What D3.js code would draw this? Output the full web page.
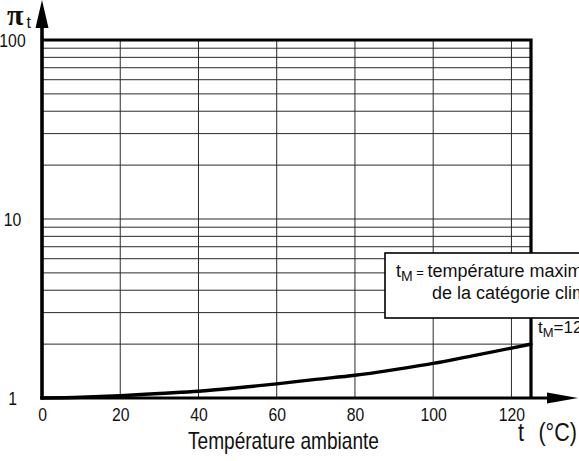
<!DOCTYPE html>
<html><head><meta charset="utf-8">
<script src="https://cdn.jsdelivr.net/npm/d3@7"></script>
<style>
html,body{margin:0;padding:0;background:#fff;}
svg{display:block;}
text{font-family:"Liberation Sans",Arial,Helvetica,sans-serif;fill:#111;}
</style></head>
<body><svg id="c" width="579" height="461"></svg>
<script>
// ---- data ----
const temps = [0, 10, 20, 30, 40, 50, 60, 70, 80, 90, 100, 110, 120, 125];
const piT   = [1.00, 1.01, 1.03, 1.06, 1.09, 1.14, 1.20, 1.27, 1.34, 1.44, 1.56, 1.72, 1.90, 2.00];
const xTicks = [0, 20, 40, 60, 80, 100, 120];
const xGrid = [20, 40, 60, 80, 100, 120];
const yTicks = [1, 10, 100];
const yGrid = [2,3,4,5,6,7,8,9,10,20,30,40,50,60,70,80,90];
const xLabel = "Température ambiante";
const xUnitVar = "t";
const xUnit = "(°C)";
const yLabel = "π";
const yLabelSub = "t";
const tM = 125;

// ---- layout ----
const NARROW = 0.83;
const svg = d3.select("#c");
const x = d3.scaleLinear().domain([0, 125]).range([42, 531]);
const y = d3.scaleLog().domain([1, 100]).range([398, 40]);
const [x0, x1] = x.range();
const [yb, yt] = y.range();

function ntext(parent, px, py, size, anchor) {
  return parent.append("text")
    .attr("transform", `translate(${px},${py}) scale(${NARROW},1)`)
    .attr("font-size", size).attr("text-anchor", anchor || "start");
}

// grid
svg.append("g").selectAll("line").data(yGrid).join("line")
  .attr("x1", x0).attr("x2", x1).attr("y1", d => y(d)).attr("y2", d => y(d))
  .attr("stroke", "#2a2a2a").attr("stroke-width", 1);
svg.append("g").selectAll("line").data(xGrid).join("line")
  .attr("x1", d => x(d)).attr("x2", d => x(d)).attr("y1", yb).attr("y2", yt)
  .attr("stroke", "#2a2a2a").attr("stroke-width", 1);

// frame: top and right borders (thick)
svg.append("path")
  .attr("d", `M${x0},${yt}H${x1}V${yb}`)
  .attr("fill", "none").attr("stroke", "#000").attr("stroke-width", 3.2);

// curve
const line = d3.line().x((d, i) => x(temps[i])).y(d => y(d)).curve(d3.curveMonotoneX);
svg.append("path").datum(piT).attr("d", line)
  .attr("fill", "none").attr("stroke", "#000").attr("stroke-width", 3.4)
  .attr("stroke-linecap", "round");

// axes lines with arrows
svg.append("line").attr("x1", x0).attr("x2", x0).attr("y1", yb + 1.5).attr("y2", 20)
  .attr("stroke", "#000").attr("stroke-width", 3.6);
svg.append("path").attr("d", `M${x0},0L${x0 - 6.5},28L${x0 + 6.5},28Z`).attr("fill", "#000");
svg.append("line").attr("x1", x0 - 1.8).attr("x2", 555).attr("y1", yb).attr("y2", yb)
  .attr("stroke", "#000").attr("stroke-width", 3.2);
svg.append("path").attr("d", `M578,${yb}L547,${yb - 5.5}L547,${yb + 5.5}Z`).attr("fill", "#000");

// x tick labels
const gx = svg.append("g").attr("transform", `translate(0,${yb})`)
  .call(d3.axisBottom(x).tickValues(xTicks).tickSize(0).tickPadding(10).tickFormat(d3.format("d")));
gx.select(".domain").remove();
gx.selectAll("text").attr("font-size", 19).attr("font-family", null).attr("fill", "#111")
  .attr("transform", `scale(${NARROW},1)`);

// y tick labels
const gy = svg.append("g");
yTicks.forEach(v => {
  ntext(gy, 12.5, y(v), 19, "middle").attr("dy", "0.36em").text(v);
});

// y label pi_t
const yl = svg.append("text").attr("x", 7).attr("y", 25);
yl.append("tspan").attr("font-size", 30).attr("font-family", "Liberation Serif, serif").attr("font-weight", "bold").text(yLabel);
yl.append("tspan").attr("font-size", 16).attr("dx", 3).attr("dy", 3).text(yLabelSub);

// x label
ntext(svg, 188, 449, 23).text(xLabel);
ntext(svg, 518, 441, 26).text(xUnitVar);
ntext(svg, 577, 441, 26, "end").text(xUnit);

// annotation box
svg.append("rect").attr("x", 385).attr("y", 253).attr("width", 220).attr("height", 65)
  .attr("fill", "#fff").attr("stroke", "#000").attr("stroke-width", 1.6);
const t1 = svg.append("text").attr("x", 396).attr("y", 277).attr("font-size", 18);
t1.append("tspan").text("t");
t1.append("tspan").attr("font-size", 14).attr("dy", 4).text("M");
t1.append("tspan").attr("font-size", 13).attr("dy", -4).text(" = ");
t1.append("tspan").text("température maximale");
svg.append("text").attr("x", 432).attr("y", 299).attr("font-size", 18).text("de la catégorie climatique");

const t2 = svg.append("text").attr("x", 538).attr("y", 333).attr("font-size", 17);
t2.append("tspan").text("t");
t2.append("tspan").attr("font-size", 13).attr("dy", 4).text("M");
t2.append("tspan").attr("dy", -4).text("=" + tM + " °C");
</script></body></html>
